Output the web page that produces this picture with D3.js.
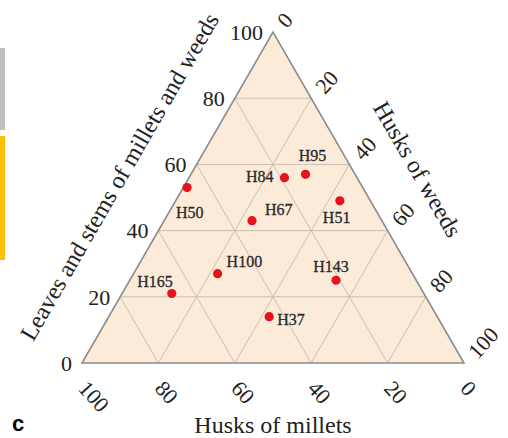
<!DOCTYPE html>
<html>
<head>
<meta charset="utf-8">
<script src="https://cdn.jsdelivr.net/npm/d3@7"></script>
<style>
  html, body { margin: 0; padding: 0; background: #ffffff; }
  svg { display: block; }
</style>
</head>
<body>
<svg id="chart" width="508" height="438"></svg>
<script>
// Samples: share (%) of leaves & stems, husks of weeds, husks of millets
const samples = ["H50", "H84", "H95", "H67", "H51", "H100", "H165", "H143", "H37"];
const leaves  = [53, 56, 57, 43, 49, 27, 21, 25, 14];
const weeds   = [1, 25, 30, 23, 43, 22, 13, 54, 42];
const millets = [46, 19, 13, 34, 8, 51, 66, 21, 44];

const leafTicks   = [0, 20, 40, 60, 80, 100];
const milletTicks = [100, 80, 60, 40, 20, 0];
const weedTicks   = [0, 20, 40, 60, 80, 100];
const gridSteps   = [20, 40, 60, 80];

const titleLeaves  = "Leaves and stems of millets and weeds";
const titleWeeds   = "Husks of weeds";
const titleMillets = "Husks of millets";

const svg = d3.select("#chart");
const serif = "'Liberation Serif', 'Times New Roman', serif";

// Horizontal position grows with weeds + half of leaves; vertical with leaves
const xs = d3.scaleLinear().domain([0, 100]).range([82, 464]);
const ys = d3.scaleLinear().domain([0, 100]).range([363, 32]);
const project = (l, w) => [xs(w + l / 2), ys(l)];

// Side panel strips at the left border
svg.append("rect").attr("x", 0).attr("y", 48).attr("width", 5).attr("height", 82).attr("fill", "#c0c0c0");
svg.append("rect").attr("x", 0).attr("y", 136).attr("width", 5).attr("height", 124).attr("fill", "#ffc000");

// Triangle background
const corners = [project(0, 0), project(0, 100), project(100, 0)];
const g = svg.append("g");
g.append("path")
  .attr("d", d3.line()(corners) + "Z")
  .attr("fill", "#fcebd9");

// Grid lines for the three components
const line = d3.line();
const grid = g.append("g").attr("stroke", "#cbbfb2").attr("stroke-width", 1).attr("fill", "none");
gridSteps.forEach(k => {
  grid.append("path").attr("d", line([project(k, 0), project(k, 100 - k)]));       // constant leaves
  grid.append("path").attr("d", line([project(0, k), project(100 - k, k)]));       // constant weeds
  grid.append("path").attr("d", line([project(0, 100 - k), project(100 - k, 0)])); // constant millets
});

// Triangle outline
g.append("path")
  .attr("d", d3.line()(corners) + "Z")
  .attr("fill", "none")
  .attr("stroke", "#8c8c8c")
  .attr("stroke-width", 1.6);

// Tick labels
const ticks = svg.append("g").attr("font-family", serif).attr("font-size", 22).attr("fill", "#222");
leafTicks.forEach(v => {
  const [px, py] = project(v, 0);
  ticks.append("text").attr("x", px - 10).attr("y", py).attr("dy", "0.35em")
    .attr("text-anchor", "end").text(v);
});
milletTicks.forEach(v => {
  const [px, py] = project(0, 100 - v);
  const ax = px + 1, ay = py + 21;
  ticks.append("text").attr("transform", `translate(${ax},${ay}) rotate(48)`)
    .attr("dy", "0.35em").attr("text-anchor", "start").text(v);
});
weedTicks.forEach(v => {
  const [px, py] = project(100 - v, v);
  const ax = px + 8, ay = py - 8;
  ticks.append("text").attr("transform", `translate(${ax},${ay}) rotate(-48)`)
    .attr("dy", "0.35em").attr("text-anchor", "start").text(v);
});

// Axis titles
const titles = svg.append("g").attr("font-family", serif).attr("font-size", 24).attr("fill", "#222");
{
  const [mx, my] = project(50, 0);
  const cx = mx - 0.866 * 61 - 0.5 * 11, cy = my - 0.5 * 61 + 0.866 * 11;
  titles.append("text").attr("transform", `translate(${cx},${cy}) rotate(-60)`)
    .attr("dy", "0.35em").attr("text-anchor", "middle").text(titleLeaves);
}
{
  const [mx, my] = project(50, 50);
  const cx = mx + 0.866 * 57, cy = my - 0.5 * 57;
  titles.append("text").attr("transform", `translate(${cx},${cy}) rotate(60)`)
    .attr("dy", "0.35em").attr("text-anchor", "middle").text(titleWeeds);
}
titles.append("text").attr("x", xs(50)).attr("y", 433).attr("text-anchor", "middle").text(titleMillets);

// Label placement for each sample: offset from its point and anchor
const labelDx     = [-11, -11, 7, 13, -17, 9, 1, -5, 8];
const labelDy     = [30, 4, -13, -6, 22, -7, -6, -8, 8];
const labelAnchor = ["start", "end", "middle", "start", "start", "start", "end", "middle", "start"];

const pts = svg.append("g");
samples.forEach((name, i) => {
  const [px, py] = project(leaves[i], weeds[i]);
  pts.append("circle").attr("cx", px).attr("cy", py).attr("r", 4.6).attr("fill", "#e5141c");
  pts.append("text")
    .attr("x", px + labelDx[i]).attr("y", py + labelDy[i])
    .attr("text-anchor", labelAnchor[i])
    .attr("font-family", serif).attr("font-size", 16).attr("fill", "#2a2a2a")
    .attr("stroke", "#2a2a2a").attr("stroke-width", 0.3)
    .text(name);
});

// Panel letter
svg.append("text").attr("x", 12).attr("y", 431)
  .attr("font-family", "'Liberation Sans', Arial, sans-serif").attr("font-weight", "bold")
  .attr("font-size", 22).attr("fill", "#000").text("c");
</script>
</body>
</html>
